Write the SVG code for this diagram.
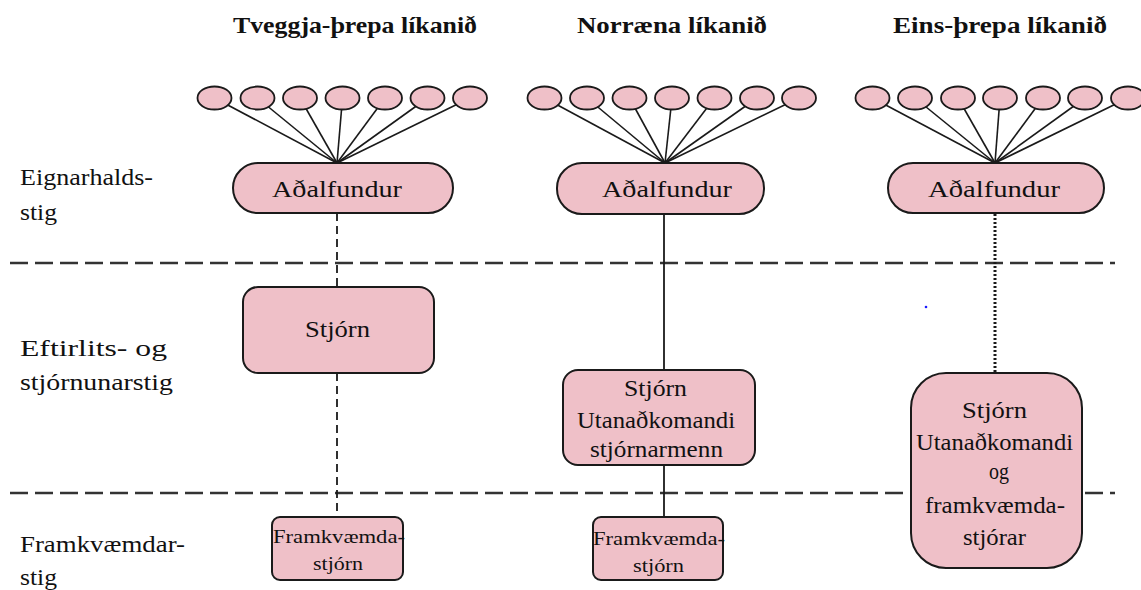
<svg xmlns="http://www.w3.org/2000/svg" width="1141" height="590" viewBox="0 0 1141 590">
<style>
text{font-family:"Liberation Serif","Times New Roman",serif;fill:#111;}
.title{font-size:23px;font-weight:bold;}
.lbl{font-size:23px;}
.bt{font-size:23px;}
.st{font-size:18.5px;}
.box{fill:#EFC0C8;stroke:#1a1a1a;stroke-width:2;}
.ell{fill:#EFC0C8;stroke:#1a1a1a;stroke-width:1.8;}
.fan{stroke:#1a1a1a;stroke-width:1.6;fill:none;}
.sep{stroke:#333;stroke-width:2.6;stroke-dasharray:18 7;fill:none;}
.dash{stroke:#1a1a1a;stroke-width:1.8;stroke-dasharray:8 5;fill:none;}
.solid{stroke:#1a1a1a;stroke-width:1.8;fill:none;}
.dot{stroke:#1a1a1a;stroke-width:3;stroke-dasharray:2 2;fill:none;}
</style>
<rect width="1141" height="590" fill="#fff"/>
<g id="titles">
<text class="title" x="233" y="33" textLength="244" lengthAdjust="spacingAndGlyphs">Tveggja-þrepa líkanið</text>
<text class="title" x="577" y="33" textLength="190" lengthAdjust="spacingAndGlyphs">Norræna líkanið</text>
<text class="title" x="893" y="33" textLength="214" lengthAdjust="spacingAndGlyphs">Eins-þrepa líkanið</text>
</g>
<g id="levels">
<text class="lbl" x="20" y="185" textLength="133" lengthAdjust="spacingAndGlyphs">Eignarhalds-</text>
<text class="lbl" x="20" y="220" textLength="37" lengthAdjust="spacingAndGlyphs">stig</text>
<text class="lbl" x="20" y="356" textLength="147" lengthAdjust="spacingAndGlyphs">Eftirlits- og</text>
<text class="lbl" x="20" y="390" textLength="153" lengthAdjust="spacingAndGlyphs">stjórnunarstig</text>
<text class="lbl" x="20" y="552" textLength="165" lengthAdjust="spacingAndGlyphs">Framkvæmdar-</text>
<text class="lbl" x="20" y="585" textLength="37" lengthAdjust="spacingAndGlyphs">stig</text>
</g>
<g id="connectors">
<line class="sep" x1="10" y1="263" x2="1115" y2="263"/>
<line class="sep" x1="10" y1="493" x2="1115" y2="493"/>
<g class="fan">
<line x1="214.5" y1="98" x2="337" y2="163"/>
<line x1="257.5" y1="98" x2="337" y2="163"/>
<line x1="300" y1="98" x2="337" y2="163"/>
<line x1="342.5" y1="98" x2="337" y2="163"/>
<line x1="385" y1="98" x2="337" y2="163"/>
<line x1="427.5" y1="98" x2="337" y2="163"/>
<line x1="470" y1="98" x2="337" y2="163"/>
<line x1="544.5" y1="98" x2="665" y2="163"/>
<line x1="587" y1="98" x2="665" y2="163"/>
<line x1="629.5" y1="98" x2="665" y2="163"/>
<line x1="672" y1="98" x2="665" y2="163"/>
<line x1="714.5" y1="98" x2="665" y2="163"/>
<line x1="757" y1="98" x2="665" y2="163"/>
<line x1="799" y1="98" x2="665" y2="163"/>
<line x1="872.5" y1="98" x2="995" y2="163"/>
<line x1="915" y1="98" x2="995" y2="163"/>
<line x1="958" y1="98" x2="995" y2="163"/>
<line x1="1000" y1="98" x2="995" y2="163"/>
<line x1="1043" y1="98" x2="995" y2="163"/>
<line x1="1085" y1="98" x2="995" y2="163"/>
<line x1="1128" y1="98" x2="995" y2="163"/>
</g>
<line class="dash" x1="337" y1="213" x2="337" y2="287"/>
<line class="dash" x1="337" y1="373" x2="337" y2="517"/>
<line class="solid" x1="664" y1="214" x2="664" y2="370"/>
<line class="solid" x1="664" y1="465" x2="664" y2="517"/>
<line class="dot" x1="995" y1="214" x2="995" y2="373"/>
</g>
<g id="shareholders">
<ellipse class="ell" cx="214.5" cy="98" rx="17" ry="11.5"/>
<ellipse class="ell" cx="257.5" cy="98" rx="17" ry="11.5"/>
<ellipse class="ell" cx="300" cy="98" rx="17" ry="11.5"/>
<ellipse class="ell" cx="342.5" cy="98" rx="17" ry="11.5"/>
<ellipse class="ell" cx="385" cy="98" rx="17" ry="11.5"/>
<ellipse class="ell" cx="427.5" cy="98" rx="17" ry="11.5"/>
<ellipse class="ell" cx="470" cy="98" rx="17" ry="11.5"/>
<ellipse class="ell" cx="544.5" cy="98" rx="17" ry="11.5"/>
<ellipse class="ell" cx="587" cy="98" rx="17" ry="11.5"/>
<ellipse class="ell" cx="629.5" cy="98" rx="17" ry="11.5"/>
<ellipse class="ell" cx="672" cy="98" rx="17" ry="11.5"/>
<ellipse class="ell" cx="714.5" cy="98" rx="17" ry="11.5"/>
<ellipse class="ell" cx="757" cy="98" rx="17" ry="11.5"/>
<ellipse class="ell" cx="799" cy="98" rx="17" ry="11.5"/>
<ellipse class="ell" cx="872.5" cy="98" rx="17" ry="11.5"/>
<ellipse class="ell" cx="915" cy="98" rx="17" ry="11.5"/>
<ellipse class="ell" cx="958" cy="98" rx="17" ry="11.5"/>
<ellipse class="ell" cx="1000" cy="98" rx="17" ry="11.5"/>
<ellipse class="ell" cx="1043" cy="98" rx="17" ry="11.5"/>
<ellipse class="ell" cx="1085" cy="98" rx="17" ry="11.5"/>
<ellipse class="ell" cx="1128" cy="98" rx="17" ry="11.5"/>
</g>
<g id="adalfundur-1">
<rect class="box" x="233" y="163" width="220" height="50" rx="25"/>
<text class="bt" x="272" y="197" textLength="130" lengthAdjust="spacingAndGlyphs">Aðalfundur</text>
</g>
<g id="adalfundur-2">
<rect class="box" x="557" y="163" width="207" height="51" rx="25"/>
<text class="bt" x="602" y="197" textLength="130" lengthAdjust="spacingAndGlyphs">Aðalfundur</text>
</g>
<g id="adalfundur-3">
<rect class="box" x="888" y="163" width="216" height="50" rx="25"/>
<text class="bt" x="928" y="197" textLength="132" lengthAdjust="spacingAndGlyphs">Aðalfundur</text>
</g>
<g id="stjorn-1">
<rect class="box" x="243" y="287" width="191" height="86" rx="15"/>
<text class="bt" x="305" y="337" textLength="65" lengthAdjust="spacingAndGlyphs">Stjórn</text>
</g>
<g id="stjorn-2">
<rect class="box" x="563" y="370" width="192" height="95" rx="15"/>
<text class="bt" x="624" y="396" textLength="63" lengthAdjust="spacingAndGlyphs">Stjórn</text>
<text class="bt" x="577" y="428" textLength="158" lengthAdjust="spacingAndGlyphs">Utanaðkomandi</text>
<text class="bt" x="590" y="457" textLength="133" lengthAdjust="spacingAndGlyphs">stjórnarmenn</text>
</g>
<g id="stjorn-3">
<rect class="box" x="911" y="373" width="171" height="195" rx="35"/>
<text class="bt" x="962" y="418" textLength="65" lengthAdjust="spacingAndGlyphs">Stjórn</text>
<text class="bt" x="916" y="450" textLength="157" lengthAdjust="spacingAndGlyphs">Utanaðkomandi</text>
<text class="bt" x="989" y="479" textLength="20" lengthAdjust="spacingAndGlyphs">og</text>
<text class="bt" x="925" y="513" textLength="140" lengthAdjust="spacingAndGlyphs">framkvæmda-</text>
<text class="bt" x="963" y="545" textLength="63" lengthAdjust="spacingAndGlyphs">stjórar</text>
</g>
<g id="framkvaemdastjorn-1">
<rect class="box" x="272" y="517" width="131" height="63" rx="8"/>
<text class="st" x="273" y="543" textLength="132" lengthAdjust="spacingAndGlyphs">Framkvæmda-</text>
<text class="st" x="313" y="570" textLength="50" lengthAdjust="spacingAndGlyphs">stjórn</text>
</g>
<g id="framkvaemdastjorn-2">
<rect class="box" x="593" y="517" width="130" height="63" rx="8"/>
<text class="st" x="593" y="545" textLength="132" lengthAdjust="spacingAndGlyphs">Framkvæmda-</text>
<text class="st" x="633" y="572" textLength="51" lengthAdjust="spacingAndGlyphs">stjórn</text>
</g>
<circle cx="926" cy="307" r="1.3" fill="#1a1aff"/>
</svg>
